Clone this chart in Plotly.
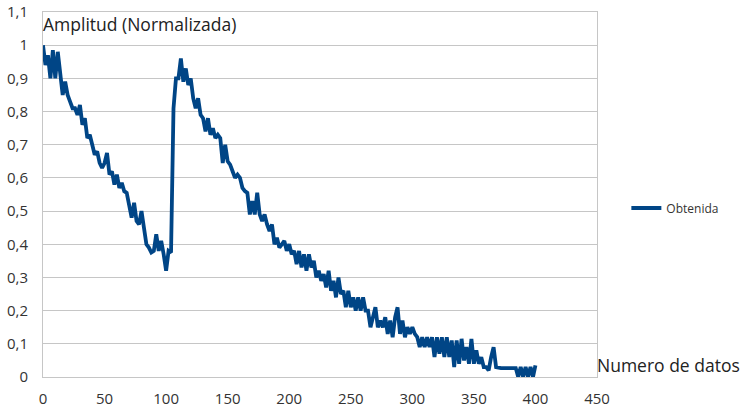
import plotly.graph_objects as go

# Sample index (Numero de datos)
x_index = list(range(0, 401, 2))

# Normalized amplitude
amplitud = [
    1.00, 0.94, 0.97, 0.90, 0.985, 0.90, 0.98, 0.90, 0.85, 0.89,
    0.85, 0.83, 0.81, 0.81, 0.79, 0.82, 0.76, 0.78, 0.72, 0.73,
    0.70, 0.67, 0.68, 0.645, 0.63, 0.645, 0.675, 0.61, 0.62, 0.58,
    0.61, 0.57, 0.585, 0.56, 0.555, 0.52, 0.48, 0.525, 0.47, 0.46,
    0.50, 0.45, 0.40, 0.39, 0.375, 0.38, 0.43, 0.38, 0.41, 0.37,
    0.32, 0.38, 0.375, 0.81, 0.90, 0.90, 0.96, 0.89, 0.93, 0.88,
    0.90, 0.84, 0.81, 0.84, 0.79, 0.78, 0.74, 0.78, 0.73, 0.75,
    0.72, 0.73, 0.72, 0.645, 0.70, 0.65, 0.64, 0.62, 0.60, 0.61,
    0.60, 0.57, 0.56, 0.555, 0.49, 0.53, 0.49, 0.555, 0.49, 0.47,
    0.49, 0.46, 0.44, 0.46, 0.40, 0.42, 0.39, 0.40, 0.41, 0.38,
    0.40, 0.37, 0.38, 0.34, 0.38, 0.33, 0.37, 0.32, 0.37, 0.33,
    0.35, 0.30, 0.32, 0.29, 0.31, 0.27, 0.32, 0.26, 0.29, 0.24,
    0.30, 0.25, 0.26, 0.21, 0.26, 0.21, 0.24, 0.20, 0.24, 0.20,
    0.24, 0.20, 0.20, 0.15, 0.18, 0.21, 0.15, 0.17, 0.15, 0.18,
    0.13, 0.17, 0.12, 0.18, 0.21, 0.13, 0.17, 0.12, 0.15, 0.13,
    0.15, 0.13, 0.12, 0.09, 0.12, 0.09, 0.12, 0.09, 0.12, 0.06,
    0.12, 0.07, 0.12, 0.06, 0.12, 0.06, 0.11, 0.03, 0.11, 0.04,
    0.115, 0.05, 0.09, 0.04, 0.115, 0.04, 0.08, 0.04, 0.06, 0.03,
    0.03, 0.02, 0.06, 0.09, 0.03, 0.027, 0.027, 0.027, 0.027, 0.027,
    0.027, 0.027, 0.027, 0.0, 0.03, 0.0, 0.03, 0.0, 0.03, 0.0,
    0.035,
]

x_ticks = [0, 50, 100, 150, 200, 250, 300, 350, 400, 450]
y_ticks = [0, 0.1, 0.2, 0.3, 0.4, 0.5, 0.6, 0.7, 0.8, 0.9, 1.0, 1.1]

series_name = "Obtenida"
y_title = "Amplitud (Normalizada)"
x_title = "Numero de datos"

FONT = "Open Sans, Noto Sans, sans-serif"
GRID = "#c6c6c6"

fig = go.Figure()
fig.add_trace(go.Scatter(
    x=x_index, y=amplitud, mode="lines", name=series_name,
    line=dict(color="#004586", width=3.8),
))

fig.update_layout(
    width=742, height=412,
    margin=dict(l=43, r=145, t=12, b=35, autoexpand=False),
    paper_bgcolor="white", plot_bgcolor="white",
    separators=", ",
    font=dict(family=FONT, size=14, color="#333333"),
    showlegend=True,
    legend=dict(x=1.053, y=0.463, xanchor="left", yanchor="middle",
                font=dict(size=12, color="#333333"), bgcolor="rgba(0,0,0,0)"),
    xaxis=dict(range=[0, 450], tickvals=x_ticks, showgrid=False,
               showline=True, mirror=True, linecolor=GRID, linewidth=1,
               ticks="outside", ticklen=8, tickcolor="rgba(0,0,0,0)",
               zeroline=False, automargin=False,
               tickfont=dict(size=15, color="#333333")),
    yaxis=dict(range=[0, 1.1], tickvals=y_ticks, showgrid=True,
               gridcolor=GRID, gridwidth=1,
               showline=True, mirror=True, linecolor=GRID, linewidth=1,
               ticks="outside", ticklen=11, tickcolor="rgba(0,0,0,0)",
               zeroline=False, automargin=False,
               tickfont=dict(size=15, color="#333333")),
    annotations=[
        dict(text=y_title, xref="paper", yref="paper", x=0, y=1,
             xanchor="left", yanchor="top", showarrow=False,
             font=dict(size=17.5, color="#222222"), xshift=-2, yshift=2),
        dict(text=x_title, xref="paper", yref="paper", x=1, y=0,
             xanchor="left", yanchor="bottom", showarrow=False,
             font=dict(size=17.5, color="#222222"), xshift=-2, yshift=-2),
    ],
)

fig.write_html("out.html",
               config={"displayModeBar": False},
               post_script="document.body.style.margin='0';document.body.style.padding='0';")
